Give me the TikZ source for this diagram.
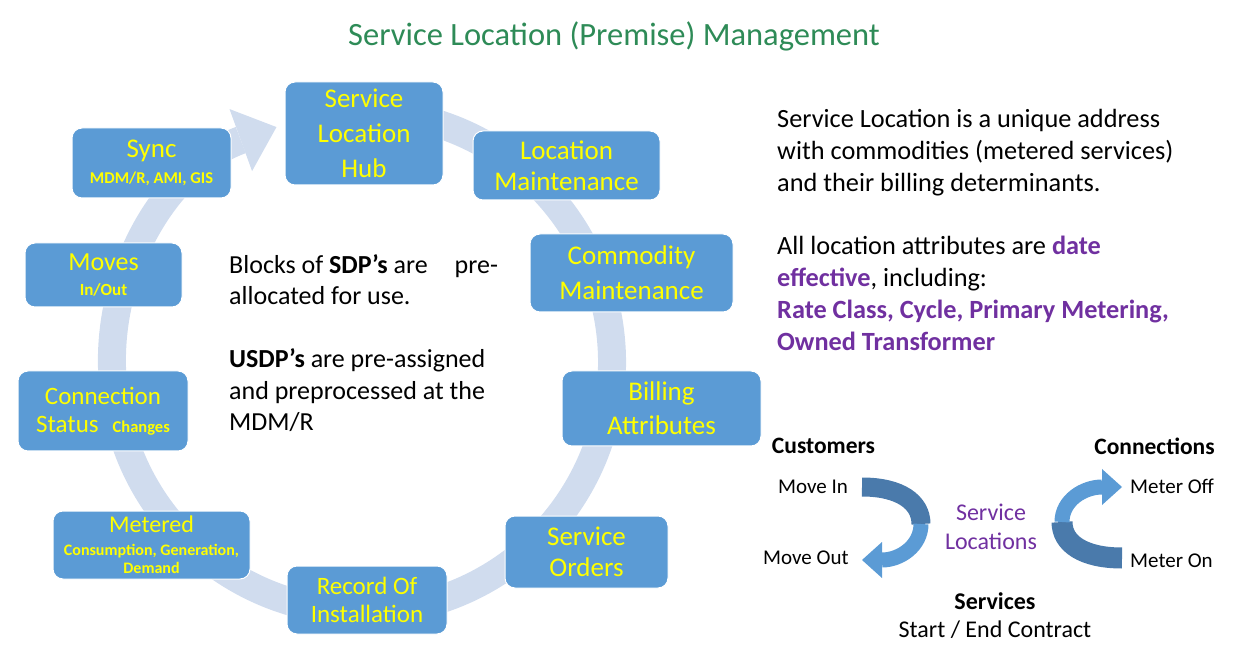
\documentclass[tikz,border=0pt]{standalone}
\usepackage{fontspec}
\setmainfont{Carlito}
\usetikzlibrary{arrows.meta}
\definecolor{boxblue}{HTML}{5B9BD5}
\definecolor{ringblue}{HTML}{D0DCEE}
\definecolor{titlegreen}{HTML}{2E8B57}
\definecolor{attrpurple}{HTML}{7030A0}
\definecolor{darkband}{HTML}{4A7AAB}
\definecolor{yel}{HTML}{FFFF00}
\newcommand{\fsz}[2]{\fontsize{#1}{#2}\selectfont}
\newcommand{\attr}[1]{\textcolor{attrpurple}{\textbf{#1}}}
\begin{document}
\begin{tikzpicture}[x=1pt,y=1pt]
	\tikzstyle{every node}+=[inner sep=0pt]
	\tikzstyle{box}=[draw=white, line width=1pt, fill=boxblue, rounded corners=10pt, text=yel, align=center]
	\tikzstyle{para}=[anchor=north west, align=left, font=\fsz{26}{31.5}]
	\tikzstyle{label}=[font=\fsz{21}{25}, anchor=west]
	\useasboundingbox (0,0) rectangle (1240,654);
	\node[text=titlegreen, font=\fsz{32.5}{38}] (title) at (614,618) {Service Location (Premise) Management};
	% the cycle
	\coordinate (ctr) at (362,292);
	\draw[ringblue, line width=28pt, -{Triangle[width=66pt,length=38pt,line width=0pt]}] ([shift={(100:250)}]ctr) arc[start angle=100, end angle=-250, radius=250];
	\node[box, minimum width=158pt, minimum height=103pt, font=\fsz{27}{35}] (hub) at (364,520.5) {Service\\Location\\Hub};
	\node[box, minimum width=187pt, minimum height=69pt, font=\fsz{27}{31}] (locmaint) at (566.5,488.5) {Location\\Maintenance};
	\node[box, minimum width=203pt, minimum height=78pt, font=\fsz{27}{35}] (commaint) at (631.5,381) {Commodity\\Maintenance};
	\node[box, minimum width=199pt, minimum height=75pt, font=\fsz{27}{34}] (billing) at (661.5,245.5) {Billing\\Attributes};
	\node[box, minimum width=163pt, minimum height=72pt, font=\fsz{27}{31}] (orders) at (586.5,102) {Service\\Orders};
	\node[box, minimum width=160pt, minimum height=68pt, font=\fsz{25}{28}] (record) at (367,54) {Record Of\\Installation};
	\node[box, minimum width=197pt, minimum height=68pt, font=\fsz{16}{18}\bfseries] (metered) at (151.5,109) {{\fsz{24}{24}\mdseries Metered}\\[5pt]Consumption, Generation,\\Demand};
	\node[box, minimum width=170pt, minimum height=80pt, font=\fsz{25}{28}] (connstat) at (103,243) {Connection\\Status\hspace{14pt}{\fsz{16.5}{16.5}\bfseries Changes}};
	\node[box, minimum width=157pt, minimum height=64pt, font=\fsz{17}{18}\bfseries] (moves) at (103.5,379) {{\fsz{26}{26}\mdseries Moves}\\[7pt]In/Out};
	\node[box, minimum width=159pt, minimum height=70pt, font=\fsz{16.5}{18}\bfseries] (sync) at (151.5,491) {{\fsz{27}{27}\mdseries Sync}\\[8pt]MDM/R, AMI, GIS};
	% notes
	\node[para] (blocks) at (229,400) {Blocks of \textbf{SDP’s} are\hspace{21pt} pre-\\allocated for use.\\[31.5pt]\textbf{USDP’s} are pre-assigned\\and preprocessed at the\\MDM/R};
	\node[para, font=\fsz{26.3}{32}] (desc) at (777,545) {Service Location is a unique address\\with commodities (metered services)\\and their billing determinants.\\[31.5pt]All location attributes are \attr{date}\\\attr{effective}, including:\\\attr{Rate Class, Cycle, Primary Metering,}\\\attr{Owned Transformer}};
	% service locations
	\node[font=\fsz{23.5}{28}\bfseries] (cust) at (823.5,208) {Customers};
	\node[font=\fsz{23.5}{28}\bfseries] (conn) at (1154.5,208) {Connections};
	\node[label] (movein) at (778,167) {Move In};
	\node[label] (moveout) at (763,96) {Move Out};
	\node[label] (meteroff) at (1130,168) {Meter Off};
	\node[label] (meteron) at (1130,93) {Meter On};
	\node[font=\fsz{24}{29}, text=attrpurple, align=center] (svcloc) at (991,127.5) {Service\\Locations};
	\node[font=\fsz{24}{29}\bfseries] (services) at (995,53) {Services};
	\node[font=\fsz{24}{29}] (contract) at (995,24) {Start / End Contract};
	\coordinate (ci) at (862,167);
	\coordinate (cm) at (921,130);
	\coordinate (co) at (862,94);
	\coordinate (ri) at (1122,96);
	\coordinate (rm) at (1062,132);
	\coordinate (ro) at (1122,167);
	\draw[darkband, line width=19pt] (ci) .. controls (900,167) and (921,152) .. (cm);
	\draw[boxblue, line width=15pt, -{Triangle[width=36pt,length=20pt,line width=0pt]}] (cm) .. controls (921,108) and (900,94) .. (co);
	\draw[darkband, line width=21pt] (ri) .. controls (1084,96) and (1062,110) .. (rm);
	\draw[boxblue, line width=15pt, -{Triangle[width=36pt,length=20pt,line width=0pt]}] (rm) .. controls (1062,154) and (1084,167) .. (ro);
\end{tikzpicture}
\end{document}
